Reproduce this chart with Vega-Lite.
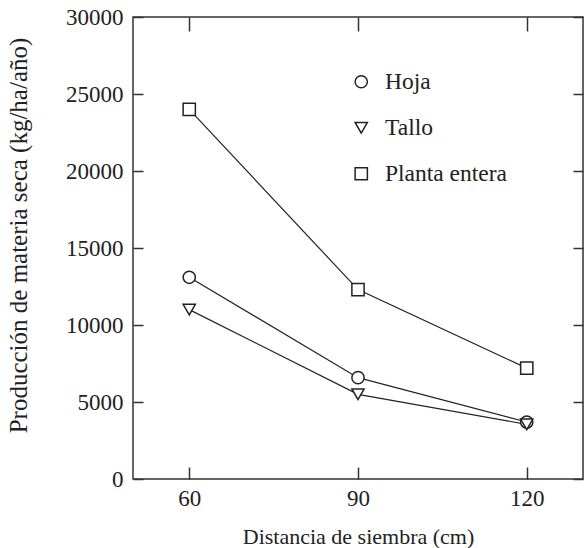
{
  "$schema": "https://vega.github.io/schema/vega-lite/v6.json",
  "width": 450,
  "height": 462,
  "autosize": {"type": "none"},
  "padding": {"left": 133, "top": 17, "right": 1, "bottom": 69},
  "background": "white",
  "config": {
    "view": {"stroke": "#333", "strokeWidth": 1.5},
    "axis": {
      "grid": false,
      "domain": false,
      "labelFont": "Liberation Serif",
      "labelFontSize": 23,
      "labelColor": "#222",
      "titleFont": "Liberation Serif",
      "titleFontSize": 22,
      "titleFontWeight": "normal",
      "titleColor": "#222",
      "tickColor": "#333",
      "tickWidth": 1.5
    },
    "legend": {
      "labelFont": "Liberation Serif",
      "labelFontSize": 23.5,
      "labelColor": "#222"
    }
  },
  "data": {
    "values": [
      {"distancia": 60, "produccion": 13100, "serie": "Hoja"},
      {"distancia": 90, "produccion": 6580, "serie": "Hoja"},
      {"distancia": 120, "produccion": 3700, "serie": "Hoja"},
      {"distancia": 60, "produccion": 11000, "serie": "Tallo"},
      {"distancia": 90, "produccion": 5500, "serie": "Tallo"},
      {"distancia": 120, "produccion": 3550, "serie": "Tallo"},
      {"distancia": 60, "produccion": 24000, "serie": "Planta entera"},
      {"distancia": 90, "produccion": 12300, "serie": "Planta entera"},
      {"distancia": 120, "produccion": 7200, "serie": "Planta entera"}
    ]
  },
  "layer": [
    {
      "mark": {"type": "line", "color": "#222", "strokeWidth": 1.2},
      "encoding": {
        "x": {
          "field": "distancia", "type": "quantitative",
          "scale": {"domain": [50, 130]},
          "axis": {"values": [60, 90, 120], "tickSize": -12, "labelPadding": 20, "title": "Distancia de siembra (cm)", "titlePadding": 16}
        },
        "y": {
          "field": "produccion", "type": "quantitative",
          "scale": {"domain": [0, 30000]},
          "axis": {"values": [0, 5000, 10000, 15000, 20000, 25000, 30000], "format": "d", "tickSize": -10, "labelPadding": 20, "title": "Producción de materia seca (kg/ha/año)", "titleFontSize": 25, "titleX": -102, "titleY": 218, "titleBaseline": "bottom", "titleAngle": 270}
        },
        "detail": {"field": "serie", "type": "nominal"}
      }
    },
    {
      "mark": {"type": "point", "filled": true, "fill": "white", "stroke": "#222", "strokeWidth": 1.5, "size": 150, "opacity": 1},
      "encoding": {
        "x": {"field": "distancia", "type": "quantitative", "axis": null},
        "y": {"field": "produccion", "type": "quantitative", "axis": null},
        "shape": {
          "field": "serie", "type": "nominal",
          "scale": {"domain": ["Hoja", "Tallo", "Planta entera"], "range": ["circle", "triangle-down", "square"]},
          "legend": {
            "title": null,
            "orient": "none",
            "legendX": 216.5,
            "legendY": 53,
            "padding": 0,
            "rowPadding": 21,
            "labelOffset": 12,
            "symbolSize": 150,
            "symbolOpacity": 1,
            "encode": {
              "symbols": {
                "update": {
                  "fill": {"value": "white"},
                  "stroke": {"value": "#222"},
                  "strokeWidth": {"value": 1.5},
                  "opacity": {"value": 1}
                }
              }
            }
          }
        }
      }
    },
    {
      "mark": {"type": "point", "opacity": 0},
      "encoding": {
        "x": {"field": "distancia", "type": "quantitative", "axis": {"orient": "top", "values": [60, 90, 120], "tickSize": -14, "labels": false, "title": null}},
        "y": {"field": "produccion", "type": "quantitative", "axis": {"orient": "right", "values": [0, 5000, 10000, 15000, 20000, 25000, 30000], "tickSize": -10, "labels": false, "title": null}}
      }
    }
  ],
  "resolve": {"axis": {"x": "independent", "y": "independent"}}
}
